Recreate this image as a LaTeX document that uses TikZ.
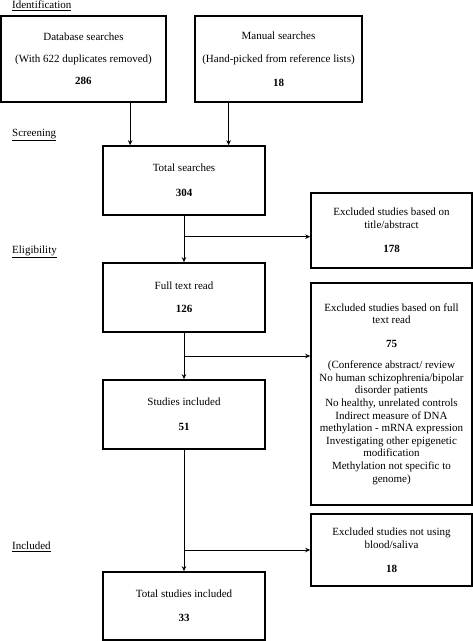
\documentclass[tikz,border=0pt]{standalone}
\usepackage{fontspec}
\setmainfont{Liberation Serif}
\usetikzlibrary{arrows.meta,calc}

\begin{document}
\begin{tikzpicture}[
        x={(1pt,0pt)}, y={(0pt,-1pt)},
        box/.style={shape=rectangle, draw, line width=1.6pt, align=center, inner sep=0pt,
          font=\fontsize{11}{12.6}\selectfont},
        stage/.style={anchor=west, inner sep=0pt, font=\fontsize{11}{12.6}\selectfont},
        route/.style={->, >={Stealth[length=5pt,width=4.5pt]}, line width=0.9pt},
        ]
        \useasboundingbox (0,0) rectangle (473,641);
        % phases
        \node(ident) [stage] at (12,5.5) {\underline{Identification}};
        \node(screen)[stage] at (12,135) {\underline{Screening}};
        \node(elig)  [stage] at (12,252) {\underline{Eligibility}};
        \node(incl)  [stage] at (12,547) {\underline{Included}};
        % boxes
        \node(db)[box, minimum width=165, minimum height=86] at (83.5,59)
          {Database searches\\[9.4pt](With 622 duplicates removed)\\[9.4pt]\textbf{286}};
        \node(man)[box, minimum width=167, minimum height=86] at (278.5,59)
          {Manual searches\\[11pt](Hand-picked from reference lists)\\[11pt]\textbf{18}};
        \node(total)[box, minimum width=162, minimum height=69] at (184,180.5)
          {Total searches\\[12.4pt]\textbf{304}};
        \node(excl1)[box, minimum width=161, minimum height=75] at (391.5,230.5)
          {Excluded studies based on\\title/abstract\\[11.4pt]\textbf{178}};
        \node(full)[box, minimum width=162, minimum height=69] at (184,297.5)
          {Full text read\\[10.4pt]\textbf{126}};
        \node(excl2)[box, minimum width=161, minimum height=222] at (391.5,394)
          {Excluded studies based on full\\text read\\[11.4pt]\textbf{75}\\[8.4pt]
           (Conference abstract/ review\\No human schizophrenia/bipolar\\disorder patients\\
           No healthy, unrelated controls\\Indirect measure of DNA\\methylation - mRNA expression\\
           Investigating other epigenetic\\modification\\Methylation not specific to\\genome)};
        \node(studies)[box, minimum width=162, minimum height=69] at (184,414.5)
          {Studies included\\[12.4pt]\textbf{51}};
        \node(excl3)[box, minimum width=161, minimum height=72] at (391.5,550)
          {Excluded studies not using\\blood/saliva\\[11.4pt]\textbf{18}};
        \node(final)[box, minimum width=162, minimum height=68] at (184,606)
          {Total studies included\\[11.4pt]\textbf{33}};
        % arrows
        \coordinate(dbout) at ($(db.south west)!0.78!(db.south east)$);
        \coordinate(manout) at ($(man.south west)!0.204!(man.south east)$);
        \draw[route](dbout)--(dbout |- total.north);
        \draw[route](manout)--(manout |- total.north);
        \draw[route](total)--(full);
        \draw[route](full)--(studies);
        \draw[route](studies)--(final);
        \coordinate(b1) at ($(total.south)!0.45!(full.north)$);
        \coordinate(b2) at ($(full.south)!0.5!(studies.north)$);
        \coordinate(b3) at (studies.south |- excl3.west);
        \draw[route](b1)--(b1 -| excl1.west);
        \draw[route](b2)--(b2 -| excl2.west);
        \draw[route](b3)--(excl3.west);
\end{tikzpicture}
\end{document}
